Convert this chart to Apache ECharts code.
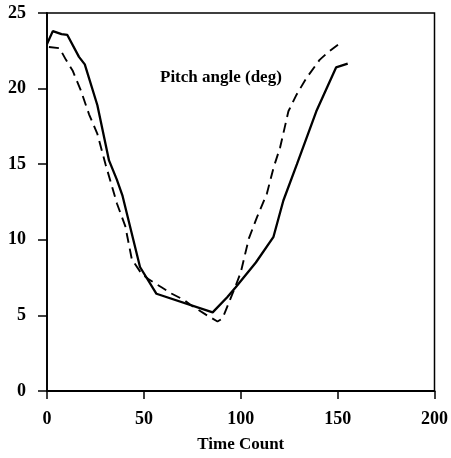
<!DOCTYPE html>
<html>
<head>
<meta charset="utf-8">
<script src="https://cdn.jsdelivr.net/npm/echarts@6/dist/echarts.min.js"></script>
<style>
  html, body { margin: 0; padding: 0; background: #fff; }
  #chart { width: 451px; height: 458px; }
</style>
</head>
<body>
<div id="chart"></div>
<script>
// Measured pitch angle (solid)
const solidTime  = [0, 3, 7.5, 10.5, 16.5, 19.5, 26, 32, 36, 39, 48, 56.5, 85.5, 93, 97.4, 107.8, 116.9, 122, 129, 139, 149.2, 155.2];
const solidPitch = [22.95, 23.8, 23.6, 23.55, 22.1, 21.6, 18.9, 15.25, 14.0, 12.9, 8.2, 6.43, 5.2, 6.2, 6.86, 8.5, 10.2, 12.6, 15.0, 18.5, 21.4, 21.65];

// Reference pitch angle (dashed)
const dashedTime  = [1, 6.5, 9.8, 13.2, 17.4, 21.7, 26, 30.2, 36.1, 40.4, 43.8, 48.9, 52.3, 59.1, 64.2, 71, 74, 82, 88, 90.6, 93.1, 97.4, 100, 104.2, 108.4, 113.5, 117, 120.3, 124.6, 128.8, 133.9, 140.7, 145, 151.8];
const dashedPitch = [22.75, 22.67, 21.9, 21.2, 19.9, 18.3, 17.0, 15.0, 12.4, 10.9, 8.7, 7.74, 7.4, 6.86, 6.45, 6.0, 5.7, 5.05, 4.6, 4.8, 5.6, 6.97, 7.84, 10.1, 11.5, 13.06, 14.8, 16.1, 18.5, 19.6, 20.7, 21.9, 22.4, 23.06];

const xTicks = { min: 0, max: 200, interval: 50 };
const yTicks = { min: 0, max: 25, interval: 5 };
const xTitle = 'Time Count';
const annotation = 'Pitch angle (deg)';

const pairs = (xs, ys) => xs.map((x, i) => [x, ys[i]]);
const serif = '"Liberation Serif", "DejaVu Serif", serif';

const chart = echarts.init(document.getElementById('chart'), null, { renderer: 'canvas' });
chart.setOption({
  animation: false,
  backgroundColor: '#fff',
  grid: {
    left: 47, right: 12, top: 13, bottom: 61,
    show: true, borderColor: '#000', borderWidth: 1.5, backgroundColor: 'transparent'
  },
  xAxis: {
    type: 'value',
    min: xTicks.min, max: xTicks.max, interval: xTicks.interval,
    name: xTitle, nameLocation: 'middle', nameGap: 45,
    nameTextStyle: { fontFamily: serif, fontSize: 17, fontWeight: 'bold', color: '#000' },
    axisLine: { lineStyle: { color: '#000', width: 1.8 } },
    axisTick: { length: 8, lineStyle: { color: '#000', width: 1.5 } },
    axisLabel: { fontFamily: serif, fontSize: 18, fontWeight: 'bold', color: '#000', margin: 19 },
    splitLine: { show: false }
  },
  yAxis: {
    type: 'value',
    min: yTicks.min, max: yTicks.max, interval: yTicks.interval,
    axisLine: { show: true, lineStyle: { color: '#000', width: 1.8 } },
    axisTick: { show: true, length: 9, lineStyle: { color: '#000', width: 1.5 } },
    axisLabel: { fontFamily: serif, fontSize: 18, fontWeight: 'bold', color: '#000', margin: 21 },
    splitLine: { show: false }
  },
  graphic: [{
    type: 'text',
    style: {
      x: 160, y: 78, text: annotation,
      font: 'bold 17px ' + serif, fill: '#000',
      verticalAlign: 'middle', align: 'left'
    }
  }],
  series: [
    {
      type: 'line', data: pairs(solidTime, solidPitch),
      showSymbol: false, symbol: 'none',
      lineStyle: { color: '#000', width: 2.3, type: 'solid' }
    },
    {
      type: 'line', data: pairs(dashedTime, dashedPitch),
      showSymbol: false, symbol: 'none',
      lineStyle: { color: '#000', width: 1.9, type: [10, 6] }
    }
  ]
});
</script>
</body>
</html>
